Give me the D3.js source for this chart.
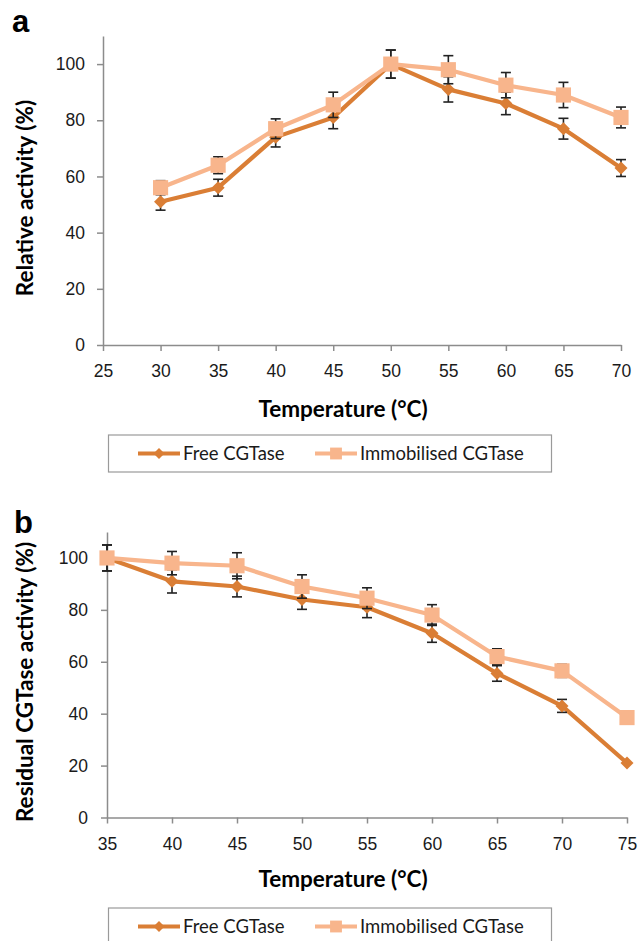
<!DOCTYPE html>
<html>
<head>
<meta charset="utf-8">
<script src="https://cdn.jsdelivr.net/npm/d3@7"></script>
<style>
  body { margin: 0; background: #fff; }
  svg { display: block; font-family: Lato, "Open Sans", sans-serif; }
</style>
</head>
<body>
<svg width="638" height="941"></svg>
<script>
// panel a: relative activity vs temperature
var tempsA = [30, 35, 40, 45, 50, 55, 60, 65, 70];
var freeA = [51, 56, 74, 81, 100, 91, 86, 77, 63];
var freeErrA = [3, 3, 3.5, 4, 5, 4.5, 4, 3.7, 3];
var immobA = [56, 64, 77, 85.5, 100, 98, 92.5, 89, 81];
var immobErrA = [2.5, 3, 3.5, 4.5, 5, 5, 4.5, 4.5, 3.7];
var xTicksA = [25, 30, 35, 40, 45, 50, 55, 60, 65, 70];

// panel b: residual activity after heat treatment
var tempsB = [35, 40, 45, 50, 55, 60, 65, 70, 75];
var freeB = [100, 91, 89, 84, 81, 71, 55.5, 43, 21];
var freeErrB = [5, 4.5, 4, 3.8, 4, 3.5, 3, 2.5, 0];
var immobB = [100, 98, 97, 89, 84.5, 78, 62, 56.5, 38.5];
var immobErrB = [5, 4.5, 5, 4.5, 4, 4, 3, 2.5, 0];
var xTicksB = [35, 40, 45, 50, 55, 60, 65, 70, 75];

var yTicks = [0, 20, 40, 60, 80, 100];
var seriesNames = ["Free CGTase", "Immobilised CGTase"];

var freeColor = "#DA7E35",
    immobColor = "#F8B58C",
    axisColor = "#8c8c8c";

var svg = d3.select("svg");

function drawPanel(p) {
    var g = svg.append("g");

    var x = d3.scaleLinear().domain(p.xDomain).range([p.left, p.right]);
    var y = d3.scaleLinear().domain([0, 110]).range([p.bottom, p.top]);

    // y axis
    var ya = g.append("g")
        .attr("transform", "translate(" + p.left + ",0)")
        .call(d3.axisLeft(y).tickValues(yTicks).tickSize(6).tickPadding(p.yPad).tickSizeOuter(0));
    // x axis
    var xa = g.append("g")
        .attr("transform", "translate(0," + p.bottom + ")")
        .call(d3.axisBottom(x).tickValues(p.xTicks).tickSize(6).tickPadding(14).tickSizeOuter(0));

    [ya, xa].forEach(function(a) {
        a.select(".domain").attr("stroke", axisColor).attr("stroke-width", 1.5);
        a.selectAll(".tick line").attr("stroke", axisColor).attr("stroke-width", 1.5);
        a.selectAll(".tick text").attr("fill", "#1a1a1a").attr("font-size", 17.5);
    });

    var series = [
        {vals: p.free, err: p.freeErr, color: freeColor, shape: "diamond"},
        {vals: p.immob, err: p.immobErr, color: immobColor, shape: "square"}
    ];

    var line = d3.line()
        .x(function(d) { return x(d.t); })
        .y(function(d) { return y(d.v); });

    series.forEach(function(s) {
        var data = p.temps.map(function(t, i) { return {t: t, v: s.vals[i], e: s.err[i]}; });

        g.append("path")
            .datum(data)
            .attr("fill", "none")
            .attr("stroke", s.color)
            .attr("stroke-width", 4.2)
            .attr("stroke-linejoin", "round")
            .attr("d", line);

        // error bars, skipped where none were plotted
        var eb = g.append("g").attr("stroke", "#222").attr("stroke-width", 1.6);
        data.filter(function(d) { return d.e > 0; }).forEach(function(d) {
            var cx = x(d.t);
            eb.append("line").attr("x1", cx).attr("x2", cx).attr("y1", y(d.v - d.e)).attr("y2", y(d.v + d.e));
            eb.append("line").attr("x1", cx - 5).attr("x2", cx + 5).attr("y1", y(d.v + d.e)).attr("y2", y(d.v + d.e));
            eb.append("line").attr("x1", cx - 5).attr("x2", cx + 5).attr("y1", y(d.v - d.e)).attr("y2", y(d.v - d.e));
        });

        var sym = d3.symbol()
            .type(d3.symbolSquare)
            .size(s.shape == "diamond" ? 85 : 230);
        g.selectAll(null)
            .data(data)
            .enter().append("path")
            .attr("d", sym)
            .attr("fill", s.color)
            .attr("transform", function(d) {
                return "translate(" + x(d.t) + "," + y(d.v) + ")" + (s.shape == "diamond" ? " rotate(45)" : "");
            });
    });

    // panel letter
    g.append("text")
        .attr("x", p.letterX).attr("y", p.letterY)
        .attr("font-family", "'Liberation Sans', Arial, sans-serif")
        .attr("font-size", 31).attr("font-weight", "bold")
        .text(p.letter);

    // y title
    g.append("text")
        .attr("transform", "translate(" + 33 + "," + p.yLabelY + ") rotate(-90)")
        .attr("text-anchor", "middle")
        .attr("font-size", 22.5).attr("font-weight", "bold")
        .text(p.yLabel);

    // x title
    g.append("text")
        .attr("x", 343).attr("y", p.xTitleY)
        .attr("text-anchor", "middle")
        .attr("font-size", 22.5).attr("font-weight", "bold")
        .text("Temperature (°C)");

    // legend
    var lg = g.append("g");
    lg.append("rect")
        .attr("x", 108.5).attr("y", p.legendY)
        .attr("width", 443).attr("height", 37)
        .attr("fill", "#fff").attr("stroke", "#9a9a9a").attr("stroke-width", 1.2);
    var ly = p.legendY + 18.5;
    var items = [
        {x0: 138, name: seriesNames[0], color: freeColor, shape: "diamond"},
        {x0: 315, name: seriesNames[1], color: immobColor, shape: "square"}
    ];
    items.forEach(function(it) {
        lg.append("line")
            .attr("x1", it.x0).attr("x2", it.x0 + 42)
            .attr("y1", ly).attr("y2", ly)
            .attr("stroke", it.color).attr("stroke-width", 4);
        lg.append("path")
            .attr("d", d3.symbol().type(d3.symbolSquare).size(it.shape == "diamond" ? 60 : 140))
            .attr("fill", it.color)
            .attr("transform", "translate(" + (it.x0 + 21) + "," + ly + ")" + (it.shape == "diamond" ? " rotate(45)" : ""));
        lg.append("text")
            .attr("x", it.x0 + 45).attr("y", ly).attr("dy", "0.35em")
            .attr("font-size", 18.5).attr("fill", "#1a1a1a")
            .text(it.name);
    });
}

drawPanel({
    letter: "a", letterX: 12, letterY: 32,
    xDomain: [25, 70], xTicks: xTicksA, yPad: 12,
    left: 103, right: 621, top: 36, bottom: 345,
    temps: tempsA, free: freeA, freeErr: freeErrA, immob: immobA, immobErr: immobErrA,
    yLabel: "Relative activity (%)", yLabelY: 198,
    xTitleY: 417, legendY: 435
});

drawPanel({
    letter: "b", letterX: 14, letterY: 533,
    xDomain: [35, 75], xTicks: xTicksB, yPad: 13,
    left: 107, right: 627, top: 532, bottom: 817.5,
    temps: tempsB, free: freeB, freeErr: freeErrB, immob: immobB, immobErr: immobErrB,
    yLabel: "Residual CGTase activity (%)", yLabelY: 682,
    xTitleY: 887, legendY: 908
});
</script>
</body>
</html>
